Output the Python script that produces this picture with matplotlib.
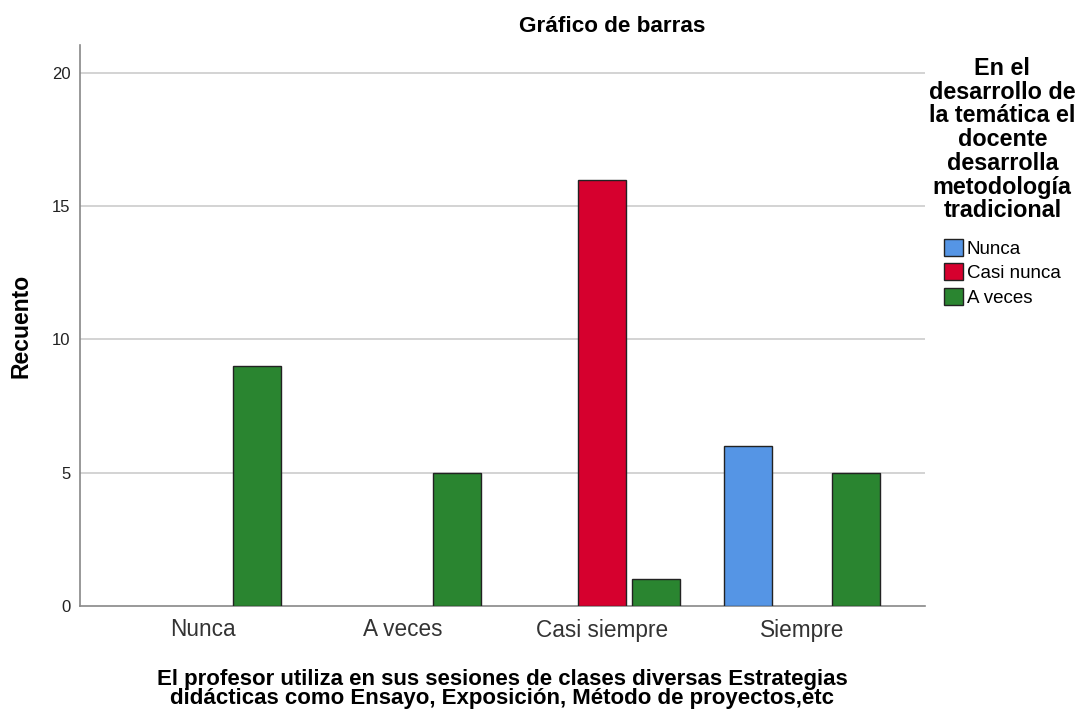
import matplotlib
matplotlib.use("Agg")
import matplotlib.pyplot as plt
from matplotlib.patches import Patch
import numpy as np

plt.rcParams['font.family'] = ['Liberation Sans', 'DejaVu Sans']

categories = ["Nunca", "A veces", "Casi siempre", "Siempre"]
series_names = ["Nunca", "Casi nunca", "A veces"]
values_nunca = [0, 0, 0, 6]
values_casi_nunca = [0, 0, 16, 0]
values_a_veces = [9, 5, 1, 5]
colors = ["#5595E5", "#D6002E", "#2A8530"]
yticks = [0, 5, 10, 15, 20]

fig = plt.figure(figsize=(10.81, 7.11), dpi=100)
ax = fig.add_axes([80/1081, 1-606/711, (925-80)/1081, (606-45)/711])

x = np.arange(len(categories))
width = 0.24
offset = 0.27
all_vals = [values_nunca, values_casi_nunca, values_a_veces]
handles = []
for i, (name, vals, c) in enumerate(zip(series_names, all_vals, colors)):
    b = ax.bar(x + (i - 1) * offset, vals, width, color=c, edgecolor="#222222",
               linewidth=1.0, label=name, zorder=3)
    for p, v in zip(b.patches, vals):
        if v == 0:
            p.set_visible(False)
    handles.append(Patch(facecolor=c, edgecolor="#222222", linewidth=1.0))

ax.set_xlim(-0.615, 3.615)
ax.set_ylim(0, 21.05)
ax.set_yticks(yticks)
ax.set_yticklabels([str(t) for t in yticks], fontsize=12, color="#222222")
ax.set_xticks(x)
ax.set_xticklabels(categories, fontsize=16.3, color="#333333")
ax.tick_params(axis='y', length=0, pad=7)
ax.tick_params(axis='x', length=0, pad=9)
for t in yticks[1:]:
    ax.axhline(t, color="#cccccc", linewidth=1.2, zorder=1)
for s in ["top", "right"]:
    ax.spines[s].set_visible(False)
for s in ["left", "bottom"]:
    ax.spines[s].set_color("#888888")
    ax.spines[s].set_linewidth(1.2)

fig.text(612/1081, 1-27/711, "Gráfico de barras", fontsize=16.2, fontweight="bold",
         ha="center", va="center")
ax.set_ylabel("Recuento", fontsize=16.5, fontweight="bold", labelpad=14)
ax.set_xlabel("El profesor utiliza en sus sesiones de clases diversas Estrategias\n"
              "didácticas como Ensayo, Exposición, Método de proyectos,etc",
              fontsize=16, fontweight="bold", labelpad=20, linespacing=0.88)

leg = ax.legend(handles=handles, labels=series_names,
                title="En el\ndesarrollo de\nla temática el\ndocente\ndesarrolla\nmetodología\ntradicional",
                title_fontproperties={"weight": "bold", "size": 16.8},
                fontsize=13.5, frameon=False, loc="upper left",
                bbox_to_anchor=(929/1081, 1-57/711), bbox_transform=fig.transFigure,
                handlelength=1.0, handleheight=1.0, handletextpad=0.2,
                labelspacing=0.3, borderpad=0, borderaxespad=0)
leg.get_title().set_multialignment("center")
leg.get_title().set_linespacing(1.04)
leg._legend_box.sep = 12

fig.savefig("out.png", dpi=100)
